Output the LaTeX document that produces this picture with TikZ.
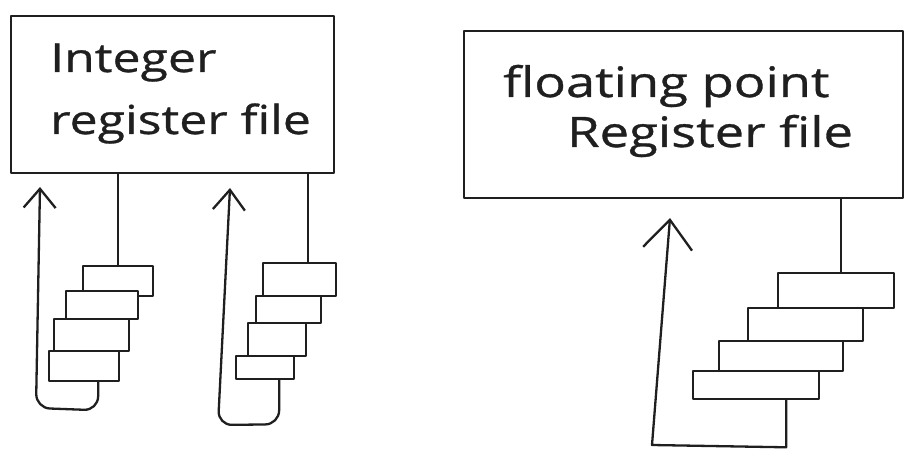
\documentclass[tikz,border=0pt]{standalone}
\usepackage{fontspec}
\newfontfamily\handfont{Open Sans}[FakeStretch=1.25, FakeBold=0.8]
\usetikzlibrary{arrows.meta}

\begin{document}
\begin{tikzpicture}[x=1pt,y=-1pt,
  pen/.style={draw=black!88, line width=2.3pt, line cap=round, line join=round},
  regfile/.style 2 args={pen, rectangle, inner sep=0pt, anchor=north west,
    minimum width=#1, minimum height=#2},
  reg/.style 2 args={pen, fill=white, rectangle, inner sep=0pt, anchor=north west,
    minimum width=#1, minimum height=#2},
  txt/.style={font=\handfont\fontsize{40}{48}\selectfont, text=black!88, inner sep=0pt, anchor=base west},
  bigtxt/.style={txt, font=\handfont\fontsize{42}{50}\selectfont},
  barb/.style 2 args={-{Straight Barb[length=#1, width=#2]}}
]
\useasboundingbox (0,0) rectangle (918,454);

% ---- register files ----
\node[regfile={323pt}{157pt}] (intrf) at (10,15) {};
\node[regfile={439pt}{167pt}] (fprf) at (463,30) {};

\node[txt] (intl1) at (50,72) {Integer};
\node[txt] (intl2) at (50,134) {register file};
\node[bigtxt] (fpl1) at (503,97) {floating point};
\node[bigtxt] (fpl2) at (567,147) {Register file};

% ---- first integer register stack ----
\node[reg={70pt}{30pt}] (a1) at (82,265) {};
\node[reg={72pt}{28pt}] (a2) at (65,290) {};
\node[reg={75pt}{32pt}] (a3) at (53,318) {};
\node[reg={70pt}{30pt}] (a4) at (48,350) {};

% ---- second integer register stack ----
\node[reg={73pt}{33pt}] (b1) at (262,262) {};
\node[reg={65pt}{27pt}] (b2) at (255,295) {};
\node[reg={58pt}{33pt}] (b3) at (247,322) {};
\node[reg={58pt}{23pt}] (b4) at (235,355) {};

% ---- floating point register stack ----
\node[reg={116pt}{35pt}] (c1) at (777,272) {};
\node[reg={115pt}{33pt}] (c2) at (747,307) {};
\node[reg={124pt}{30pt}] (c3) at (718,340) {};
\node[reg={126pt}{28pt}] (c4) at (692,370) {};

% ---- read ports: register file down to the stacks ----
\draw[pen] (a1.north) -- (a1.north |- intrf.south);
\draw[pen] ([xshift=8pt]b1.north) -- ([xshift=8pt]b1.north |- intrf.south);
\draw[pen] ([xshift=5pt]c1.north) -- ([xshift=5pt]c1.north |- fprf.south);

% ---- write-back loops ----
\coordinate (t1) at (40,187);
\coordinate (t2) at (230,188);
\coordinate (t3) at (670,218);

\draw[pen, barb={19pt}{32pt}, rounded corners=14pt]
  ([xshift=14pt]a4.south) -- ++(0,28) -- (36,408) -- (t1);
\draw[pen, barb={20pt}{32pt}, rounded corners=14pt]
  ([xshift=14pt]b4.south) -- ++(0,44) -- (218,425) -- (t2);
\draw[pen, barb={29pt}{49pt}]
  ([xshift=30pt]c4.south) -- ++(0,47) -- (652,445) -- (t3);
\end{tikzpicture}
\end{document}
